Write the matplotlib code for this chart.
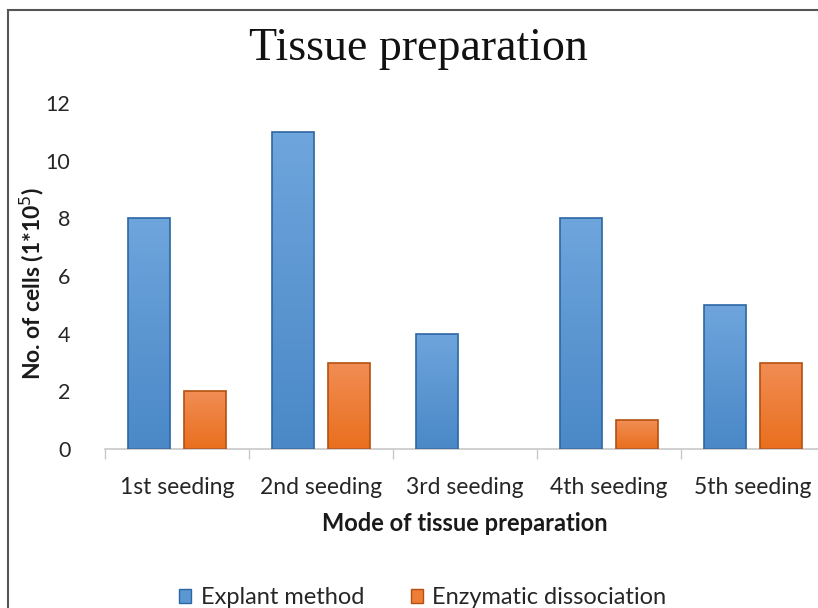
import numpy as np
import matplotlib
matplotlib.use('Agg')
import matplotlib.pyplot as plt
import matplotlib.patches as patches
from matplotlib.colors import LinearSegmentedColormap

categories = ['1st seeding', '2nd seeding', '3rd seeding', '4th seeding', '5th seeding']
explant = [8, 11, 4, 8, 5]
enzymatic = [2, 3, 0, 1, 3]
series_names = ['Explant method', 'Enzymatic dissociation']

W, H = 818, 608
plt.rcParams['font.family'] = ['Lato', 'DejaVu Sans']

fig = plt.figure(figsize=(W / 100, H / 100), dpi=100)
fig.patch.set_facecolor('white')

# axes placed in pixel terms (right edge runs off the picture like the source)
ax = fig.add_axes([105 / W, (H - 449) / H, 720 / W, 346 / H])

x = np.arange(len(categories))
bw = 0.29
off = 0.193

blue_cmap = LinearSegmentedColormap.from_list('b', ['#4a88c7', '#6ea5dc'])
orange_cmap = LinearSegmentedColormap.from_list('o', ['#e96f1e', '#f18d54'])

b1 = ax.bar(x - off, explant, bw, facecolor='#5b97d3', edgecolor='#2c66a4', linewidth=0, zorder=2)
b2 = ax.bar(x + off, enzymatic, bw, facecolor='#ee7d36', edgecolor='#b4500f', linewidth=0, zorder=2)

grad = np.linspace(0, 1, 100).reshape(-1, 1)
for bars, cmap, ec in [(b1, blue_cmap, '#2c66a4'), (b2, orange_cmap, '#b4500f')]:
    for p in bars:
        if p.get_height() <= 0:
            continue
        x0, y0 = p.get_x(), p.get_y()
        im = ax.imshow(grad, cmap=cmap, aspect='auto', origin='lower',
                       extent=[x0, x0 + p.get_width(), y0, y0 + p.get_height()], zorder=2.5)
        im.set_clip_path(p)
        edge = patches.Rectangle((x0, y0), p.get_width(), p.get_height(), fill=False,
                                 edgecolor=ec, linewidth=1.2, zorder=3)
        ax.add_patch(edge)

ax.set_xlim(-0.5, 4.5)
ax.set_ylim(0, 12)
ax.set_yticks(range(0, 13, 2))
ax.set_xticks(x)
ax.set_xticklabels(categories)
ax.set_xticks(np.arange(-0.5, 5, 1), minor=True)
ax.tick_params(axis='x', which='major', length=0, pad=20, labelsize=16.5, labelcolor='#262626')
ax.tick_params(axis='x', which='minor', length=7, color='#c8c8c8', width=1)
ax.tick_params(axis='y', length=0, pad=25, labelsize=15.5, labelcolor='#262626')

for s in ['top', 'right', 'left']:
    ax.spines[s].set_visible(False)
ax.spines['bottom'].set_color('#c8c8c8')
ax.spines['bottom'].set_linewidth(1.2)

ax.set_xlabel('Mode of tissue preparation', fontsize=17, fontweight='bold', color='#1a1a1a', labelpad=10)
fig.text(32 / W, 1 - 283 / H, 'No. of cells (1*10$^5$)', rotation=90, ha='center', va='center',
         fontsize=16.5, fontweight='bold', color='#1a1a1a')

fig.text(418 / W, 1 - 60 / H, 'Tissue preparation', ha='center', va='baseline',
         fontsize=33, family='Liberation Serif', color='#111111')

handles = [patches.Patch(facecolor='#5b97d3', edgecolor='#2c66a4'),
           patches.Patch(facecolor='#ee7d36', edgecolor='#b4500f')]
fig.legend(handles, series_names, loc='center', bbox_to_anchor=(423 / W, 1 - 598 / H), ncol=2,
           frameon=False, fontsize=17, handlelength=0.5, handleheight=0.5, handletextpad=0.4,
           columnspacing=2.0, labelcolor='#262626')

# outer border of the chart area (clipped by the image on the right and bottom)
fig.add_artist(patches.Rectangle((8 / W, -0.1), 1.2, 1 - 10 / H + 0.1, transform=fig.transFigure,
                                 fill=False, edgecolor='#555555', linewidth=1.5))

fig.savefig('out.png', dpi=100)
